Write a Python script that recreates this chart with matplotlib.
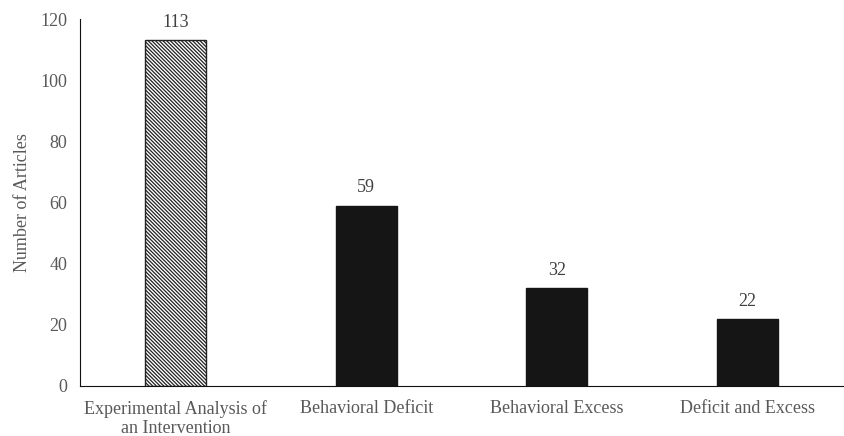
import matplotlib.pyplot as plt
import numpy as np

categories = ["Experimental Analysis of\nan Intervention", "Behavioral Deficit",
              "Behavioral Excess", "Deficit and Excess"]
counts = [113, 59, 32, 22]

plt.rcParams['font.family'] = ['Liberation Serif', 'DejaVu Serif']
plt.rcParams['hatch.linewidth'] = 0.9
plt.rcParams['hatch.color'] = '#333333'

fig = plt.figure(figsize=(8.44, 4.36), dpi=100)
ax = fig.add_axes([0.0948, 0.1147, 0.904, 0.8417])

x = np.arange(len(categories))
bars = ax.bar(x, counts, width=0.32, color='#151515', edgecolor='#151515', linewidth=1)
bars[0].set_facecolor('white')
bars[0].set_hatch('\\' * 9)
bars[0].set_edgecolor('#222222')

# value labels above the bars
for xi, v in zip(x, counts):
    ax.text(xi, v + 3, str(v), ha='center', va='bottom', fontsize=13, color='#404040')

ax.set_xlim(-0.5, 3.5)
ax.set_ylim(0, 120)
ax.set_yticks(np.arange(0, 121, 20))
ax.set_xticks(x)
ax.set_xticklabels(categories, fontsize=13, color='#595959')
ax.tick_params(axis='y', labelsize=13, labelcolor='#595959', length=0, pad=9)
ax.tick_params(axis='x', length=0, pad=10)
ax.set_ylabel('Number of Articles', fontsize=13, color='#595959', labelpad=7)

for s in ['top', 'right']:
    ax.spines[s].set_visible(False)
ax.spines['left'].set_color('#111111')
ax.spines['bottom'].set_color('#111111')

fig.savefig('out.png', dpi=100)
